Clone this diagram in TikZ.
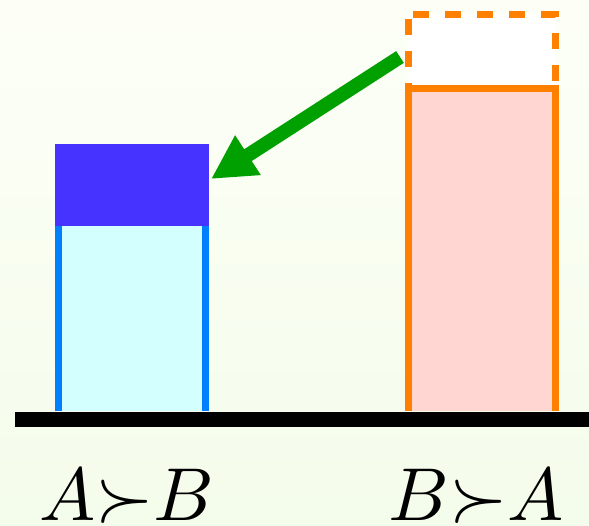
\documentclass[tikz,border=0pt]{standalone}
\usetikzlibrary{arrows.meta}
\definecolor{bgtop}{HTML}{FDFFF7}
\definecolor{bgbot}{HTML}{F4FCEB}
\definecolor{cyanfill}{HTML}{D4FFFF}
\definecolor{bluesides}{HTML}{0080FF}
\definecolor{darkbox}{HTML}{4633FF}
\definecolor{orng}{HTML}{FF8000}
\definecolor{pinkfill}{HTML}{FFD6D2}
\definecolor{grn}{HTML}{00A000}
\begin{document}
\begin{tikzpicture}[x=1pt,y=-1pt,
  sides/.style={line width=7pt},
  lbl/.style={anchor=base,inner sep=0pt,scale=7.5}]
\useasboundingbox (0,0) rectangle (589,525);
\shade[top color=bgtop,bottom color=bgbot] (0,0) rectangle (589,525);
% left bar
\fill[cyanfill] (58,225) rectangle (205,411);
\draw[sides,bluesides] (58,225) -- (58,411);
\draw[sides,bluesides] (205,225) -- (205,411);
\fill[darkbox] (54.5,143.5) rectangle (209,225.5);
\node[inner sep=0pt,minimum width=154.5pt,minimum height=82pt] (top) at (131.75,184.5) {};
% right bar
\fill[pinkfill] (408,88) rectangle (555,411);
\draw[line width=7pt,orng,dash pattern=on 16pt off 16pt,dash phase=-4pt,fill=white] (408,14.5) rectangle (555,88);
\draw[sides,orng,miter limit=10] (408,411) -- (408,88) -- (555,88) -- (555,411);
% baseline
\fill[black] (15,411.5) rectangle (589,427);
% arrow
\coordinate (src) at (400,57);
\coordinate (dst) at (211,179);
\draw[grn,line width=14pt,-{Triangle[length=44pt,width=44pt]}] (src) -- (dst);
% labels
\node[lbl] (l1) at (127,520) {$A{\succ}B$};
\node[lbl] (l2) at (476,520) {$B{\succ}A$};
\end{tikzpicture}
\end{document}
